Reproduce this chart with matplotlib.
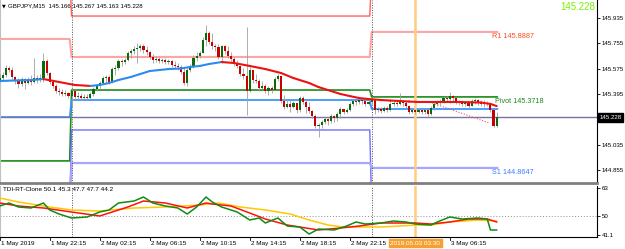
import numpy as np
import matplotlib
matplotlib.use("Agg")
import matplotlib.pyplot as plt
from matplotlib.transforms import blended_transform_factory

plt.rcParams['font.family'] = ['Liberation Sans', 'DejaVu Sans']

# --- data -------------------------------------------------------------------
header = "GBPJPY,M15  145.166 145.267 145.163 145.228"
bid = 145.228
first_open = 145.494

closes = [145.508, 145.530, 145.580, 145.565, 145.516, 145.494, 145.466, 145.501, 145.473, 145.494,
          145.480, 145.508, 145.494, 145.508, 145.629, 145.544, 145.480, 145.452, 145.416, 145.409,
          145.395, 145.402, 145.380, 145.416, 145.373, 145.380, 145.366, 145.373, 145.366, 145.395,
          145.430, 145.452, 145.473, 145.508, 145.516, 145.480, 145.572, 145.580, 145.629, 145.622,
          145.636, 145.686, 145.700, 145.715, 145.722, 145.736, 145.708, 145.693, 145.658, 145.636,
          145.644, 145.629, 145.636, 145.622, 145.629, 145.601, 145.594, 145.587, 145.551, 145.473,
          145.565, 145.594, 145.651, 145.665, 145.686, 145.779, 145.828, 145.764, 145.736, 145.729,
          145.658, 145.736, 145.700, 145.665, 145.644, 145.615, 145.594, 145.537, 145.523, 145.416,
          145.565, 145.494, 145.487, 145.437, 145.452, 145.416, 145.437, 145.423, 145.501, 145.523,
          145.345, 145.302, 145.324, 145.302, 145.331, 145.281, 145.366, 145.338, 145.302, 145.274,
          145.238, 145.167, 145.174, 145.196, 145.217, 145.203, 145.238, 145.224, 145.253, 145.288,
          145.267, 145.281, 145.324, 145.345, 145.338, 145.352, 145.345, 145.324, 145.338, 145.352,
          145.281, 145.288, 145.274, 145.295, 145.281, 145.324, 145.331, 145.324, 145.338, 145.331,
          145.309, 145.267, 145.281, 145.267, 145.281, 145.267, 145.281, 145.253, 145.295, 145.324,
          145.338, 145.345, 145.366, 145.359, 145.380, 145.366, 145.345, 145.331, 145.324, 145.331,
          145.309, 145.345, 145.352, 145.338, 145.324, 145.331, 145.324, 145.281, 145.166, 145.228]

highs = [145.537, 145.551, 145.601, 145.594, 145.587, 145.523, 145.508, 145.516, 145.508, 145.516,
         145.530, 145.651, 145.530, 145.537, 145.686, 145.644, 145.551, 145.494, 145.466, 145.437,
         145.430, 145.423, 145.409, 145.430, 145.423, 145.409, 145.402, 145.395, 145.395, 145.409,
         145.444, 145.466, 145.487, 145.523, 145.530, 145.530, 145.587, 145.601, 145.644, 145.644,
         145.651, 145.700, 145.715, 145.736, 145.757, 145.750, 145.750, 145.736, 145.700, 145.679,
         145.665, 145.658, 145.651, 145.651, 145.644, 145.636, 145.629, 145.615, 145.601, 145.587,
         145.580, 145.608, 145.672, 145.693, 145.700, 145.800, 145.885, 145.843, 145.828, 145.750,
         145.750, 145.743, 145.743, 145.736, 145.693, 145.658, 145.636, 145.594, 145.580, 145.871,
         145.587, 145.551, 145.537, 145.501, 145.487, 145.466, 145.452, 145.452, 145.516, 145.537,
         145.516, 145.388, 145.359, 145.352, 145.345, 145.324, 145.380, 145.380, 145.352, 145.338,
         145.281, 145.253, 145.189, 145.210, 145.231, 145.224, 145.253, 145.245, 145.267, 145.302,
         145.288, 145.295, 145.338, 145.359, 145.359, 145.366, 145.359, 145.352, 145.359, 145.373,
         145.309, 145.302, 145.302, 145.309, 145.309, 145.338, 145.345, 145.345, 145.402, 145.345,
         145.345, 145.316, 145.295, 145.288, 145.295, 145.288, 145.295, 145.288, 145.309, 145.338,
         145.352, 145.359, 145.380, 145.380, 145.409, 145.388, 145.359, 145.352, 145.352, 145.345,
         145.338, 145.359, 145.366, 145.359, 145.352, 145.352, 145.345, 145.331, 145.288, 145.267]

lows = [145.480, 145.494, 145.516, 145.551, 145.501, 145.466, 145.437, 145.452, 145.430, 145.466,
        145.459, 145.473, 145.473, 145.480, 145.480, 145.530, 145.466, 145.437, 145.402, 145.388,
        145.380, 145.380, 145.366, 145.302, 145.352, 145.359, 145.352, 145.345, 145.352, 145.359,
        145.380, 145.416, 145.437, 145.466, 145.480, 145.466, 145.473, 145.530, 145.565, 145.594,
        145.608, 145.629, 145.651, 145.679, 145.615, 145.700, 145.686, 145.672, 145.644, 145.615,
        145.622, 145.615, 145.615, 145.608, 145.608, 145.587, 145.580, 145.565, 145.537, 145.459,
        145.452, 145.551, 145.580, 145.629, 145.651, 145.693, 145.736, 145.750, 145.715, 145.700,
        145.644, 145.615, 145.679, 145.651, 145.629, 145.594, 145.580, 145.523, 145.501, 145.245,
        145.409, 145.473, 145.473, 145.416, 145.430, 145.402, 145.388, 145.402, 145.423, 145.487,
        145.331, 145.288, 145.295, 145.267, 145.295, 145.260, 145.267, 145.324, 145.260, 145.260,
        145.224, 145.153, 145.089, 145.153, 145.181, 145.174, 145.189, 145.196, 145.203, 145.224,
        145.253, 145.260, 145.274, 145.309, 145.316, 145.324, 145.324, 145.309, 145.316, 145.324,
        145.253, 145.267, 145.260, 145.267, 145.267, 145.274, 145.309, 145.309, 145.316, 145.309,
        145.295, 145.253, 145.260, 145.253, 145.260, 145.253, 145.253, 145.238, 145.245, 145.281,
        145.309, 145.316, 145.331, 145.338, 145.331, 145.338, 145.324, 145.316, 145.309, 145.309,
        145.295, 145.309, 145.324, 145.316, 145.309, 145.302, 145.309, 145.267, 145.160, 145.163]

# moving average (blue while rising, red while falling)
ma_idx = [0, 5, 10, 14, 19, 24, 29, 32, 35, 38, 42, 45, 48, 51, 54, 58, 61, 64, 67, 71, 75, 80, 85,
          90, 94, 99, 102, 106, 109, 112, 115, 118, 122, 125, 128, 131, 134, 138, 141, 144, 147, 150,
          154, 157, 159]
ma_val = [145.487, 145.491, 145.494, 145.501, 145.480, 145.459, 145.452, 145.459, 145.473, 145.494,
          145.516, 145.537, 145.558, 145.565, 145.572, 145.576, 145.587, 145.594, 145.608, 145.622,
          145.615, 145.594, 145.572, 145.544, 145.508, 145.473, 145.444, 145.416, 145.395, 145.380,
          145.366, 145.359, 145.352, 145.348, 145.345, 145.341, 145.338, 145.338, 145.338, 145.338,
          145.338, 145.336, 145.334, 145.324, 145.309]

# daily pivot levels, one value per day (1 May / 2 May / 3 May)
day_start = [23, 119]
r2_lvls = [146.250, 145.949, 146.250]
r1_lvls = [145.786, 145.658, 145.836]
pivot_lvls = [144.919, 145.423, 145.374]
mid_lvls = [145.231, 145.352, 145.288]
s2_lvls = [144.600, 145.139, 144.600]
s1_lvls = [144.600, 144.904, 144.869]
trend_idx = [138.4, 156.6]
trend_val = [145.331, 145.189]

price_ticks = [145.935, 145.755, 145.575, 145.395, 145.035, 144.855]

# TDI-RT-Clone indicator
tdi_green_idx = [0, 3, 6, 10, 14, 16, 19, 23, 28, 32, 35, 38, 43, 46, 49, 53, 57, 60, 63, 66, 68, 71,
                 76, 80, 83, 85, 89, 92, 96, 99, 102, 107, 111, 114, 117, 122, 126, 130, 133, 138,
                 140, 144, 148, 153, 156, 157, 159]
tdi_green = [54.61, 56.01, 54.15, 53.68, 56.01, 52.75, 50.88, 49.02, 49.49, 51.82, 52.75, 56.01,
             56.94, 58.81, 56.01, 54.61, 53.68, 50.88, 54.15, 58.81, 56.48, 54.15, 51.82, 48.09,
             49.02, 46.69, 49.02, 45.29, 44.83, 41.56, 43.89, 43.43, 45.29, 47.16, 46.22, 46.69,
             47.62, 47.16, 46.22, 45.76, 47.16, 49.49, 48.55, 49.02, 48.55, 43.43, 43.43]
tdi_red_idx = [0, 6, 14, 23, 32, 41, 46, 53, 60, 66, 68, 74, 80, 85, 92, 98, 102, 109, 115, 122,
               128, 133, 138, 144, 150, 156, 159]
tdi_red = [56.01, 54.61, 53.68, 51.82, 49.95, 54.15, 56.94, 56.01, 53.68, 56.01, 55.54, 54.61,
           51.35, 48.55, 45.76, 44.36, 43.43, 44.36, 45.29, 46.69, 46.69, 46.69, 46.22, 47.16,
           48.55, 48.55, 47.16]
tdi_yellow_idx = [0, 6, 16, 23, 32, 43, 53, 64, 70, 77, 85, 93, 99, 105, 110, 115, 122, 128, 133,
                  138, 144, 153, 159]
tdi_yellow = [58.34, 56.48, 54.15, 52.75, 52.28, 53.68, 54.15, 55.08, 56.01, 54.15, 52.75, 50.88,
              48.09, 45.76, 44.83, 44.83, 44.83, 45.29, 45.76, 45.76, 47.16, 48.09, 47.62]
tdi_title = "TDI-RT-Clone 50.1 45.3 47.7 47.7 44.2"
tdi_ticks = [63, 50, 41.1]

time_idx = [0, 16, 32, 48, 64, 80, 96, 112, 144]
time_labels = ["1 May 2019", "1 May 22:15", "2 May 02:15", "2 May 06:15", "2 May 10:15",
               "2 May 14:15", "2 May 18:15", "2 May 22:15", "3 May 06:15"]
cursor_idx = 133
cursor_label = "2019.05.03 03:30"

FS = 4.6  # small MT4 style text

# --- figure --------------------------------------------------------------------
W, H = 625, 249
fig = plt.figure(figsize=(W / 100, H / 100), dpi=100)
fig.patch.set_facecolor('white')
ax = fig.add_axes([0, (H - 183) / H, 597 / W, 183 / H])
ax2 = fig.add_axes([0, (H - 237) / H, 597 / W, 51 / H])

xlim = (0.1, 191.1)
for a in (ax, ax2):
    a.set_xlim(*xlim)
    a.set_xticks([])
    a.yaxis.tick_right()
    a.tick_params(axis='y', labelsize=4.4, length=2.5, pad=1.0, width=0.6)
    a.spines['left'].set_color('#c0c0c0')
    a.spines['right'].set_linewidth(0.8)
    a.spines['top'].set_visible(False)
    for d in day_start:
        a.axvline(d, color='#505050', lw=0.7, ls=(0, (1, 1.5)), zorder=2)
    a.axvline(cursor_idx, color='#ffcc80', lw=1.8, zorder=1.5)

ax.set_ylim(144.762, 146.063)
ax.set_yticks(price_ticks)
ax.set_yticklabels(["%.3f" % p for p in price_ticks])
ax.spines['bottom'].set_color('#808080')
ax.spines['bottom'].set_linewidth(2)

# pivot lines, stepped day by day
seg_bounds = [(-1, 22.4), (23.0, 118.4), (119.0, 159.2)]


def draw_levels(levels, color, lw):
    xs, ys = [], []
    for (x0, x1), lv in zip(seg_bounds, levels):
        xs += [x0, x1]
        ys += [lv, lv]
    ax.plot(xs, ys, color=color, lw=lw, zorder=1)


draw_levels(r2_lvls, '#ff6262', 1.0)
draw_levels(r1_lvls, '#ffa4a4', 1.5)
draw_levels(pivot_lvls, '#1c8c1c', 1.2)
draw_levels(mid_lvls, '#3898ff', 1.3)
draw_levels(s2_lvls, '#6e6eff', 1.0)
draw_levels(s1_lvls, '#a6a6ff', 1.6)

ax.axhline(bid, color='#7474a8', lw=1.0, zorder=1)
ax.plot(trend_idx, trend_val, color='#ff5050', lw=0.8, ls=(0, (1, 1.5)), zorder=2)

# candles
o = np.array([first_open] + closes[:-1])
c = np.array(closes)
hi = np.maximum(np.array(highs), np.maximum(o, c))
lo = np.minimum(np.array(lows), np.minimum(o, c))
idx = np.arange(len(c))
up = c >= o
ax.vlines(idx, lo, hi, color='#a0a0a0', lw=0.6, zorder=3)
bottom = np.minimum(o, c)
height = np.maximum(np.abs(c - o), 0.0012)
ax.bar(idx[up], height[up], bottom=bottom[up], width=0.68, color='#0c6a0c', lw=0, zorder=4)
ax.bar(idx[~up], height[~up], bottom=bottom[~up], width=0.68, color='#c80000', lw=0, zorder=4)

# coloured moving average
for k in range(len(ma_idx) - 1):
    col = '#2d8af0' if ma_val[k + 1] > ma_val[k] else '#ee1111'
    ax.plot(ma_idx[k:k + 2], ma_val[k:k + 2], color=col, lw=1.5, zorder=5,
            solid_capstyle='round')

# labels on the pivot lines
ax.text(157.6, r1_lvls[2] - 0.006, "R1 145.8887", color='#ff4a24', fontsize=5.2,
        va='top', ha='left', zorder=6)
ax.text(158.6, pivot_lvls[2] - 0.006, "Pivot 145.3718", color='#1e8a1e', fontsize=5.2,
        va='top', ha='left', zorder=6)
ax.text(157.6, s1_lvls[2] - 0.006, "S1 144.8647", color='#3a7cff', fontsize=5.2,
        va='top', ha='left', zorder=6)

ax.text(0.004, 0.97, "\u25bc", transform=ax.transAxes, fontsize=3.5, va='center',
        ha='left', family='DejaVu Sans')
ax.text(0.013, 0.97, header, transform=ax.transAxes, fontsize=4.4, va='center', ha='left')
ax.text(0.997, 0.962, "%.3f" % bid, transform=ax.transAxes, fontsize=7.0,
        color='#78f000', va='center', ha='right')

# current price box on the scale
ax.text(1.004, bid, "%.3f" % bid, transform=blended_transform_factory(ax.transAxes, ax.transData),
        fontsize=4.4, color='white', va='center', ha='left', clip_on=False,
        bbox=dict(boxstyle='square,pad=0.3', fc='black', ec='black'))

# indicator window
ax2.set_ylim(40.17, 63.93)
ax2.set_yticks(tdi_ticks)
ax2.set_yticklabels(["63", "50", "41.1"])
ax2.spines['bottom'].set_linewidth(0.8)
ax2.axhline(50, color='#909090', lw=0.7, ls=(0, (1, 2)), zorder=1)
ax2.plot(tdi_yellow_idx, tdi_yellow, color='#ffc800', lw=1.1, zorder=3)
ax2.plot(tdi_red_idx, tdi_red, color='#ff1010', lw=1.1, zorder=4)
ax2.plot(tdi_green_idx, tdi_green, color='#138a13', lw=1.1, zorder=5)
ax2.text(0.005, 0.94, tdi_title, transform=ax2.transAxes, fontsize=FS, va='center', ha='left')

# time scale
tt = blended_transform_factory(ax2.transData, ax2.transAxes)
for i, lab in zip(time_idx, time_labels):
    ax2.plot([i, i], [0, -0.05], color='black', lw=0.6, transform=tt, clip_on=False)
    ax2.text(i + 0.4, -0.12, lab, transform=tt, fontsize=FS, va='center', ha='left',
             clip_on=False)
ax2.text(cursor_idx, -0.12, cursor_label, transform=tt, fontsize=FS, va='center', ha='center',
         color='white', clip_on=False,
         bbox=dict(boxstyle='square,pad=0.25', fc='#f5a033', ec='#f5a033'))

fig.savefig('out.png', dpi=100)
